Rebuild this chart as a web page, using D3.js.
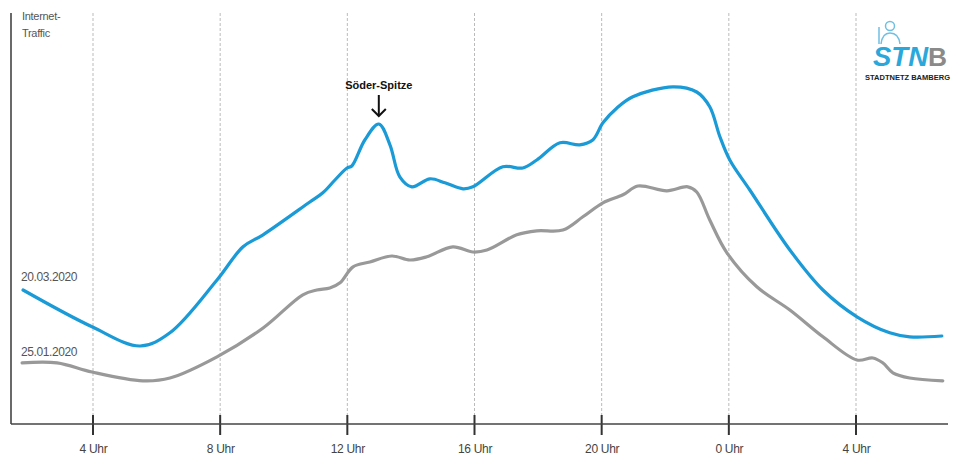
<!DOCTYPE html>
<html><head><meta charset="utf-8">
<script src="https://cdn.jsdelivr.net/npm/d3@7"></script>
<style>body{margin:0;background:#fff}svg{display:block;font-family:"Liberation Sans",Arial,sans-serif}</style>
</head><body><svg id="c" width="958" height="457"></svg>
<script>
// hours of day (continuing past midnight as 24+)
const tickHours = [4, 8, 12, 16, 20, 24, 28];
const tickLabels = ["4 Uhr", "8 Uhr", "12 Uhr", "16 Uhr", "20 Uhr", "0 Uhr", "4 Uhr"];
const seriesNames = ["20.03.2020", "25.01.2020"];
const hoursMarch = [1.8,3.97,5.48,6.42,7.9,8.72,9.35,10.82,11.23,11.61,11.99,12.14,12.55,12.99,13.34,13.65,14.03,14.6,15.07,15.64,15.95,16.89,17.52,17.96,18.69,19.31,19.72,20.04,20.48,20.98,22.24,22.99,23.4,23.72,24.03,24.66,25.92,26.96,28.03,29.06,29.69,30.7];
const trafficMarch = [33.5,24.3,19.5,22.8,36,44.3,47.3,55.5,57.8,61,64,64.5,71,75,69.8,61.8,59.3,61.3,60.3,58.8,59.3,64.3,64,66,70.3,69.8,71,75.3,79,81.8,84.3,83,79.3,71.8,66,58.5,43.5,33.5,26.8,22.8,21.8,22];
const hoursJan = [1.77,2.87,3.97,5.57,6.42,7.9,9.35,10.6,11.04,11.45,11.77,12.18,12.71,13.4,13.97,14.5,15.32,15.95,16.39,17.33,17.96,18.78,19.41,20.04,20.67,21.14,22.05,22.71,22.99,23.4,23.94,24.88,25.92,26.96,28.03,28.53,28.84,29.16,29.69,30.73];
const trafficJan = [15.3,15.3,13,10.8,11.5,16.8,24,32.3,33.5,34,35.3,39.3,40.5,42,41,41.8,44.3,43,43.5,47.3,48.3,48.5,51.8,55.3,57.3,59.5,58.3,59.3,58,51,42.8,34.3,28.5,21.8,16,16.5,15.3,12.8,11.5,10.8];
const peakHour = 12.99, peakLabel = "Söder-Spitze";

const svg = d3.select("#c");
const x = d3.scaleLinear().domain([4, 28]).range([93, 856]);
const y = d3.scaleLinear().domain([0, 100]).range([424, 24]);

// grid
svg.append("g").selectAll("line").data(tickHours).join("line")
  .attr("x1", d => x(d)).attr("x2", d => x(d)).attr("y1", 13).attr("y2", 416)
  .attr("stroke", "#bbb").attr("stroke-width", 1).attr("stroke-dasharray", "3,2");

// x axis
const xa = svg.append("g").attr("transform", "translate(0,424)")
  .call(d3.axisBottom(x).tickValues(tickHours).tickFormat((d, i) => tickLabels[i]).tickSize(0).tickPadding(20));
xa.select(".domain").remove();
xa.selectAll("text").attr("font-size", 12).attr("fill", "#444").attr("letter-spacing", -0.3).attr("font-family", "Liberation Sans, Arial, sans-serif");
svg.append("g").selectAll("line").data(tickHours).join("line")
  .attr("x1", d => x(d)).attr("x2", d => x(d)).attr("y1", 415).attr("y2", 435)
  .attr("stroke", "#333").attr("stroke-width", 2);
svg.append("line").attr("x1", 11).attr("x2", 948).attr("y1", 424).attr("y2", 424).attr("stroke", "#444").attr("stroke-width", 1.6);
svg.append("line").attr("x1", 11).attr("x2", 11).attr("y1", 13).attr("y2", 424).attr("stroke", "#444").attr("stroke-width", 1.6);

// lines
const line = d3.line().x(d => x(d[0])).y(d => y(d[1])).curve(d3.curveCatmullRom.alpha(0.5));
const jan = hoursJan.map((h, i) => [h, trafficJan[i]]);
const mar = hoursMarch.map((h, i) => [h, trafficMarch[i]]);
svg.append("path").attr("d", line(jan)).attr("fill", "none").attr("stroke", "#999").attr("stroke-width", 3.2).attr("stroke-linecap", "round");
svg.append("path").attr("d", line(mar)).attr("fill", "none").attr("stroke", "#1a9ad6").attr("stroke-width", 3.2).attr("stroke-linecap", "round");

// labels
const lab = svg.append("g").attr("fill", "#555").attr("font-size", 12).attr("letter-spacing", -0.4);
lab.append("text").attr("x", 21).attr("y", y(trafficMarch[0]) - 9).text(seriesNames[0]);
lab.append("text").attr("x", 21).attr("y", y(trafficJan[0]) - 7).text(seriesNames[1]);
const yl = svg.append("text").attr("fill", "#555").attr("font-size", 11).attr("letter-spacing", -0.3);
yl.append("tspan").attr("x", 22).attr("y", 20).text("Internet-");
yl.append("tspan").attr("x", 22).attr("y", 37).text("Traffic");

// annotation
const pi = hoursMarch.indexOf(peakHour);
const px = x(peakHour), py = y(trafficMarch[pi]);
svg.append("text").attr("x", px).attr("y", py - 35).attr("text-anchor", "middle")
  .attr("font-size", 11).attr("font-weight", "bold").attr("fill", "#111").text(peakLabel);
svg.append("line").attr("x1", px).attr("x2", px).attr("y1", py - 29).attr("y2", py - 8).attr("stroke", "#111").attr("stroke-width", 2);
svg.append("path").attr("d", `M${px-7},${py-15} L${px},${py-8} L${px+7},${py-15}`).attr("fill", "none").attr("stroke", "#111").attr("stroke-width", 2);

// logo
const lg = svg.append("g");
lg.append("circle").attr("cx", 890).attr("cy", 26).attr("r", 4.5).attr("fill", "none").attr("stroke", "#6fbfe3").attr("stroke-width", 1.5);
lg.append("path").attr("d", "M881,44 C882,36 885,33 890,33 C895,33 899,36 900,44").attr("fill", "none").attr("stroke", "#6fbfe3").attr("stroke-width", 1.5);
lg.append("line").attr("x1", 879).attr("x2", 879).attr("y1", 27).attr("y2", 44).attr("stroke", "#6fbfe3").attr("stroke-width", 1.5);
lg.append("text").attr("x", 873).attr("y", 66).attr("font-size", 28).attr("font-weight", "bold").attr("font-style", "italic")
  .attr("fill", "#2aa8dc").attr("textLength", 55).attr("lengthAdjust", "spacingAndGlyphs").text("STN");
lg.append("text").attr("x", 928).attr("y", 66).attr("font-size", 25).attr("font-weight", "bold").attr("fill", "#8a8a8a")
  .attr("textLength", 19).attr("lengthAdjust", "spacingAndGlyphs").text("B");
lg.append("text").attr("x", 865).attr("y", 80).attr("font-size", 6.3).attr("font-weight", "bold").attr("fill", "#222")
  .attr("textLength", 85).attr("lengthAdjust", "spacingAndGlyphs").text("STADTNETZ BAMBERG");
</script></body></html>
